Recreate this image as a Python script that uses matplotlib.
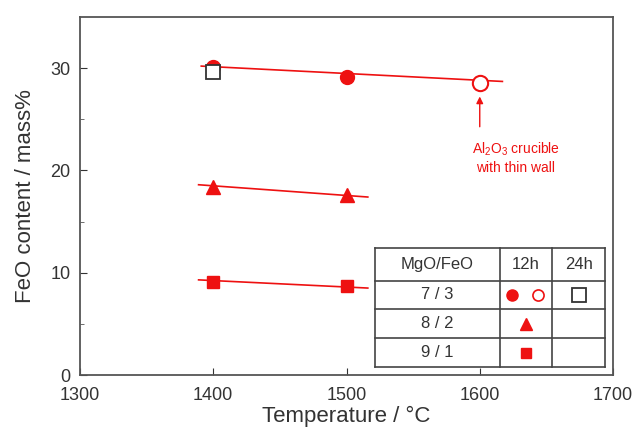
import matplotlib.pyplot as plt

plt.rcParams['font.family'] = ['Liberation Sans', 'DejaVu Sans']
plt.rcParams['mathtext.fontset'] = 'custom'
plt.rcParams['mathtext.rm'] = 'Liberation Sans'

# MgO/FeO = 7/3
temp_73_12h = [1400, 1500]
feo_73_12h = [30.1, 29.1]
temp_73_thin = [1600]
feo_73_thin = [28.5]
temp_73_24h = [1400]
feo_73_24h = [29.6]
fit_73_x = [1391, 1617]
fit_73_y = [30.2, 28.7]

# MgO/FeO = 8/2
temp_82 = [1400, 1500]
feo_82 = [18.4, 17.6]
fit_82_x = [1389, 1516]
fit_82_y = [18.6, 17.4]

# MgO/FeO = 9/1
temp_91 = [1400, 1500]
feo_91 = [9.1, 8.7]
fit_91_x = [1389, 1516]
fit_91_y = [9.3, 8.5]

table_header = ["MgO/FeO", "12h", "24h"]
table_rows = ["7 / 3", "8 / 2", "9 / 1"]

red = '#ee1111'

fig = plt.figure(figsize=(6.36, 4.32), dpi=100)
ax = fig.add_axes([80/636, 57/432, 533/636, 358/432])

ax.plot(fit_73_x, fit_73_y, color=red, lw=1.2, zorder=2)
ax.plot(fit_82_x, fit_82_y, color=red, lw=1.2, zorder=2)
ax.plot(fit_91_x, fit_91_y, color=red, lw=1.2, zorder=2)

ax.plot(temp_73_12h, feo_73_12h, 'o', color=red, ms=10, zorder=3)
ax.plot(temp_73_thin, feo_73_thin, 'o', mfc='white', mec=red, mew=1.5, ms=11, zorder=3)
ax.plot(temp_73_24h, feo_73_24h, 's', mfc='white', mec='#333333', mew=1.3, ms=10, zorder=4)
ax.plot(temp_82, feo_82, '^', color=red, ms=10, zorder=3)
ax.plot(temp_91, feo_91, 's', color=red, ms=9, zorder=3)

ax.annotate("", xy=(1600, 27.5), xytext=(1600, 24.0),
            arrowprops=dict(arrowstyle='-|>', color=red, lw=1.0, mutation_scale=10))
ax.text(1627, 22.9, "Al$_2$O$_3$ crucible\nwith thin wall", color=red,
        fontsize=10, ha='center', va='top', linespacing=1.3)

ax.set_xlim(1300, 1700)
ax.set_ylim(0, 35)
ax.set_xticks([1300, 1400, 1500, 1600, 1700])
ax.set_yticks([0, 10, 20, 30])
ax.set_yticks([5, 15, 25], minor=True)
ax.tick_params(direction='in', length=5, labelsize=13, colors='#333333')
ax.tick_params(axis='x', pad=9)
ax.tick_params(axis='y', pad=7)
ax.tick_params(which='minor', direction='in', length=3, color='#555555')
for s in ax.spines.values():
    s.set_color('#555555')
    s.set_linewidth(1.3)

ax.set_xlabel("Temperature / °C", fontsize=16, color='#333333', labelpad=1)
ax.set_ylabel("FeO content / mass%", fontsize=16, color='#333333', labelpad=10)

# legend table drawn in axes fraction
xs = [0.553, 0.788, 0.886, 0.985]
ys = [0.355, 0.263, 0.184, 0.103, 0.022]
tc = '#444444'
for x in xs:
    ax.plot([x, x], [ys[0], ys[-1]], color=tc, lw=1.2, transform=ax.transAxes, zorder=5)
for y in ys:
    ax.plot([xs[0], xs[-1]], [y, y], color=tc, lw=1.2, transform=ax.transAxes, zorder=5)
ax.fill_between([xs[0], xs[-1]], ys[-1], ys[0], color='white', transform=ax.transAxes, zorder=4.5)

cx = [(xs[i] + xs[i+1]) / 2 for i in range(3)]
cy = [(ys[i] + ys[i+1]) / 2 for i in range(4)]
for i, h in enumerate(table_header):
    ax.text(cx[i], cy[0], h, transform=ax.transAxes, ha='center', va='center',
            fontsize=12, color='#333333', zorder=6)
for j, r in enumerate(table_rows):
    ax.text(cx[0], cy[j+1], r, transform=ax.transAxes, ha='center', va='center',
            fontsize=12, color='#333333', zorder=6)

kw = dict(transform=ax.transAxes, zorder=6, clip_on=False)
ax.plot(cx[1] - 0.027, cy[1], 'o', color=red, ms=8, **kw)
ax.plot(cx[1] + 0.022, cy[1], 'o', mfc='white', mec=red, mew=1.2, ms=8, **kw)
ax.plot(cx[2], cy[1], 's', mfc='white', mec='#333333', mew=1.3, ms=10, **kw)
ax.plot(cx[1], cy[2], '^', color=red, ms=8, **kw)
ax.plot(cx[1], cy[3], 's', color=red, ms=7, **kw)

fig.savefig("out.png", dpi=100)
